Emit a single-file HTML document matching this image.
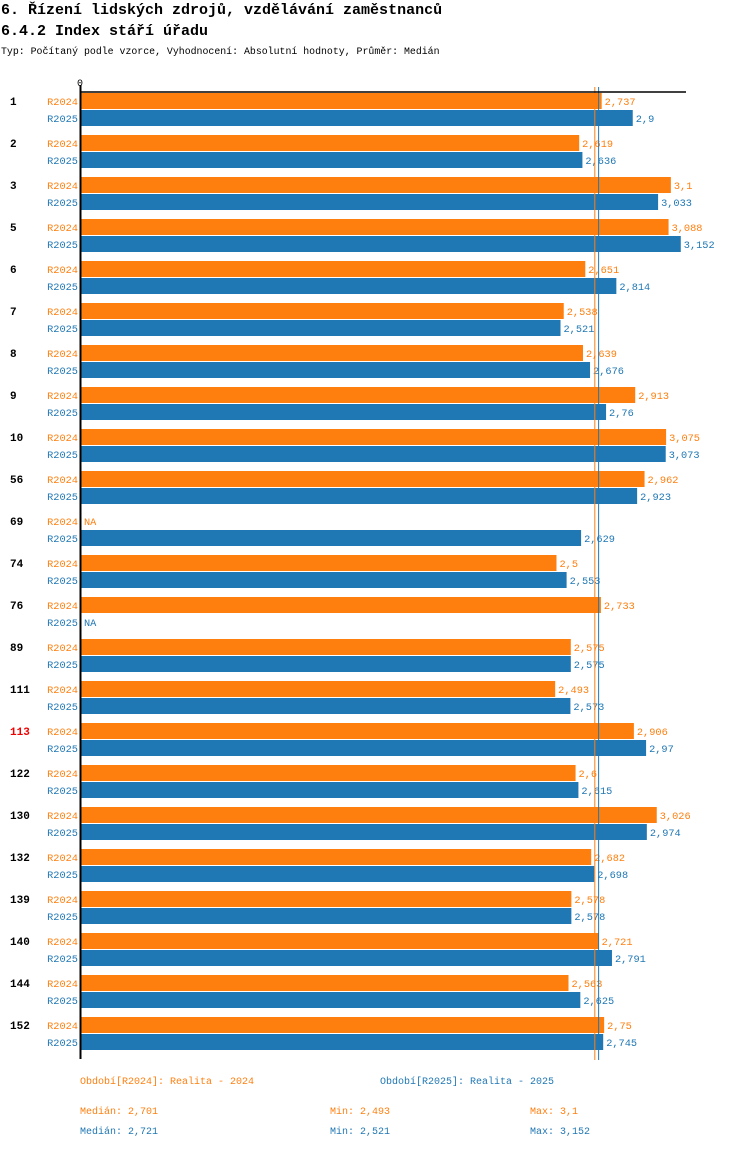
<!DOCTYPE html>
<html><head><meta charset="utf-8"><style>
body{margin:0;background:#fff;width:750px;height:1148px;overflow:hidden;font-family:"Liberation Mono",monospace}
svg text{font-family:"Liberation Mono",monospace}
</style></head><body>
<svg id="c" width="750" height="1148" xmlns="http://www.w3.org/2000/svg">
<text x="1" y="14" font-size="15" font-weight="bold">6. Řízení lidských zdrojů, vzdělávání zaměstnanců</text>
<text x="1" y="35" font-size="15" font-weight="bold">6.4.2 Index stáří úřadu</text>
<text x="1" y="54" font-size="9.9">Typ: Počítaný podle vzorce, Vyhodnocení: Absolutní hodnoty, Průměr: Medián</text>
<text x="80" y="86" font-size="10" text-anchor="middle">0</text>
<g id="bars"></g>
<line x1="80" y1="92" x2="686" y2="92" stroke="#000" stroke-width="1.5"/>
<line x1="80.5" y1="85" x2="80.5" y2="1059" stroke="#000" stroke-width="2"/>
<g id="legend" font-size="10">
<text x="80" y="1084" fill="#ff7f0e">Období[R2024]: Realita - 2024</text>
<text x="380" y="1084" fill="#1f77b4">Období[R2025]: Realita - 2025</text>
<text x="80" y="1114" fill="#ff7f0e">Medián: 2,701</text>
<text x="330" y="1114" fill="#ff7f0e">Min: 2,493</text>
<text x="530" y="1114" fill="#ff7f0e">Max: 3,1</text>
<text x="80" y="1134" fill="#1f77b4">Medián: 2,721</text>
<text x="330" y="1134" fill="#1f77b4">Min: 2,521</text>
<text x="530" y="1134" fill="#1f77b4">Max: 3,152</text>
</g>
</svg>
<script>
const categories=["1","2","3","5","6","7","8","9","10","56","69","74","76","89","111","113","122","130","132","139","140","144","152"];
const r2024=[2.737,2.619,3.1,3.088,2.651,2.538,2.639,2.913,3.075,2.962,null,2.5,2.733,2.575,2.493,2.906,2.6,3.026,2.682,2.578,2.721,2.563,2.75];
const r2025=[2.9,2.636,3.033,3.152,2.814,2.521,2.676,2.76,3.073,2.923,2.629,2.553,null,2.575,2.573,2.97,2.615,2.974,2.698,2.578,2.791,2.625,2.745];
const medians=[2.701,2.721];
const seriesNames=["R2024","R2025"];
const colors=["#ff7f0e","#1f77b4"];
const NS="http://www.w3.org/2000/svg";
const x=v=>80+v*190.6;
const yRow=(i,s)=>93+i*42+s*17;
const g=document.getElementById('bars');
function mk(tag,attrs,txt){const e=document.createElementNS(NS,tag);for(const k in attrs)e.setAttribute(k,attrs[k]);if(txt!=null)e.textContent=txt;g.appendChild(e);return e;}
const fmt=v=>String(v).replace('.',',');
categories.forEach((c,i)=>{
  const t=mk('text',{x:10,y:yRow(i,0)+12,'font-size':11,'font-weight':'bold',fill:c==="113"?"#e00":"#000"},c);
  
  
  [r2024,r2025].forEach((arr,s)=>{
    const y=yRow(i,s);const v=arr[i];
    const l=mk('text',{x:78,y:y+12,'font-size':10.3,'text-anchor':'end',fill:colors[s]},seriesNames[s]);
    
    
    if(v==null){
      const n=mk('text',{x:84,y:y+12,'font-size':10.3,fill:colors[s]},'NA');
      
      
      return;
    }
    const r=mk('rect',{x:81,y:y,width:x(v)-81,height:16,fill:colors[s]});
    
    
    const vt=mk('text',{x:x(v)+3,y:y+12,'font-size':10.3,fill:colors[s]},fmt(v));
    
    
  });
});
medians.forEach((m,s)=>{
  const ln=mk('line',{x1:x(m),x2:x(m),y1:87,y2:1060,stroke:colors[s],'stroke-width':1});
  
  
});
</script>
</body></html>
